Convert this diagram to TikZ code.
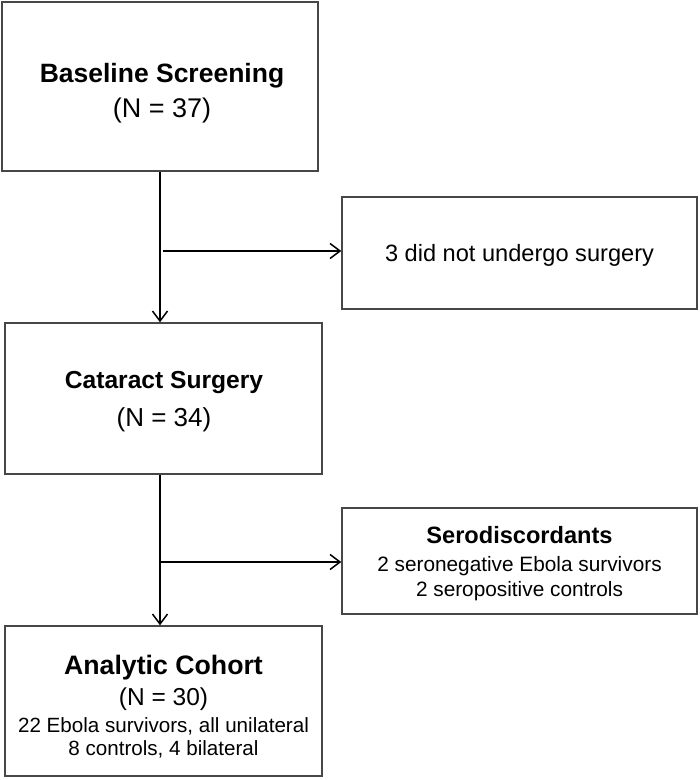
\documentclass[tikz,border=0pt]{standalone}
\usepackage{fontspec}
\setmainfont{Liberation Sans}
\usetikzlibrary{arrows.meta}
\tikzset{
  box/.style={draw=black!72, line width=1.4pt, rectangle, inner sep=0pt, fill=white},
  conn/.style={draw=black, line width=1.3pt},
  arr/.style={conn, -{Straight Barb[length=10pt,width=15pt,line width=1.5pt]}},
  txt/.style={anchor=base, inner sep=0pt, text=black},
}
\newcommand{\fs}[1]{\fontsize{#1}{#1}\selectfont}
\begin{document}
\begin{tikzpicture}[x=1pt,y=1pt]
\useasboundingbox[fill=white] (0,0) rectangle (700,-780);
% boxes
\node[box, minimum width=316pt, minimum height=169pt] (b1) at (160,-86.5) {};
\node[box, minimum width=355pt, minimum height=112pt] (b2) at (519.5,-253) {};
\node[box, minimum width=317pt, minimum height=151pt] (b3) at (163.5,-398.5) {};
\node[box, minimum width=355pt, minimum height=106pt] (b4) at (519.5,-561) {};
\node[box, minimum width=317pt, minimum height=150pt] (b5) at (163.5,-701) {};
% texts
\node[txt, font=\fs{26.5}\bfseries] (t1a) at (162,-82) {Baseline Screening};
\node[txt, font=\fs{27}] (t1b) at (162,-117) {(N = 37)};
\node[txt, font=\fs{23.6}] (t2a) at (519.5,-261) {3 did not undergo surgery};
\node[txt, font=\fs{24.6}\bfseries] (t3a) at (164,-388) {Cataract Surgery};
\node[txt, font=\fs{26}] (t3b) at (164,-426) {(N = 34)};
\node[txt, font=\fs{23.6}\bfseries] (t4a) at (519.5,-543) {Serodiscordants};
\node[txt, font=\fs{20.8}] (t4b) at (519.5,-571) {2 seronegative Ebola survivors};
\node[txt, font=\fs{20.8}] (t4c) at (519.5,-596) {2 seropositive controls};
\node[txt, font=\fs{26.7}\bfseries] (t5a) at (163.5,-674) {Analytic Cohort};
\node[txt, font=\fs{24.5}] (t5b) at (163.5,-705) {(N = 30)};
\node[txt, font=\fs{20.6}] (t5c) at (163.5,-732) {22 Ebola survivors, all unilateral};
\node[txt, font=\fs{20.6}] (t5d) at (163.5,-755) {8 controls, 4 bilateral};
% connectors
\coordinate (j1) at (163,-251);
\coordinate (j2) at (160,-562);
\draw[arr] (b1.south) -- (b1.south |- b3.north);
\draw[arr] (b1.south |- b3.south) -- (b1.south |- b5.north);
\draw[arr] (j1) -- (b2.west |- j1);
\draw[arr] (j2) -- (b4.west |- j2);
\end{tikzpicture}
\end{document}
